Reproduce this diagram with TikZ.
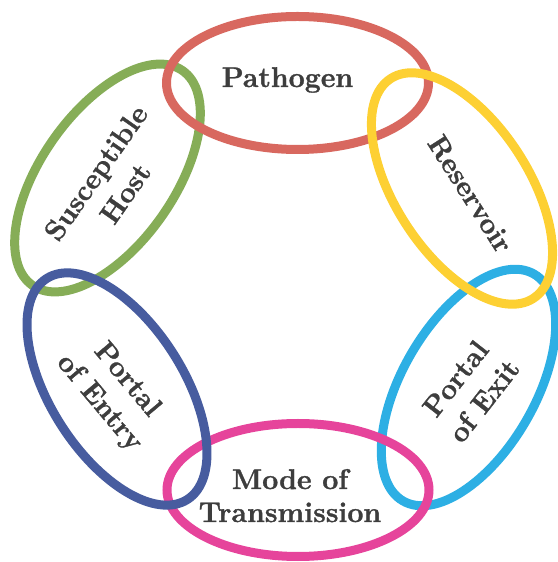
\documentclass[tikz,border=0pt]{standalone}
\usepackage{fontspec}
\newfontfamily\lblfont{Latin Modern Roman}[BoldFeatures={FakeBold=1.2}]
\definecolor{cred}{HTML}{D8685F}
\definecolor{cyellow}{HTML}{FDD033}
\definecolor{ccyan}{HTML}{2DAFE4}
\definecolor{cmagenta}{HTML}{E6449B}
\definecolor{cnavy}{HTML}{475C9F}
\definecolor{cgreen}{HTML}{86AD57}
\definecolor{txtgray}{HTML}{3D3D3D}
\begin{document}
\begin{tikzpicture}[x=1pt,y=1pt,
  ring/.style={line width=9pt},
  lbl/.style={text=txtgray, font=\lblfont\fontsize{28.5}{36}\selectfont\bfseries, align=center, inner sep=0pt}]
\useasboundingbox (0,0) rectangle (557,562);
% drawing order: green, red, cyan, yellow, magenta, navy
\draw[ring, cgreen, rotate around={55:(107.5,384)}] (107.5,384) ellipse [x radius=131pt, y radius=66.5pt];
\draw[ring, cred] (297.5,479) ellipse [x radius=131pt, y radius=66.5pt];
\draw[ring, ccyan, rotate around={60:(468.5,174.5)}] (468.5,174.5) ellipse [x radius=131pt, y radius=66.5pt];
\draw[ring, cyellow, rotate around={-57:(462,373.5)}] (462,373.5) ellipse [x radius=131pt, y radius=66.5pt];
\draw[ring, cmagenta] (298,72) ellipse [x radius=131pt, y radius=66.5pt];
\draw[ring, cnavy, rotate around={-57.5:(117,173)}] (117,173) ellipse [x radius=131pt, y radius=66.5pt];
% labels
\node[lbl, anchor=base] (pathogen) at (287.5,475) {Pathogen};
\node[lbl, rotate=-57.5] (reservoir) at (470.5,368) {Reservoir};
\node[lbl, rotate=52] (exit) at (469.6,172.4) {Portal\\of Exit};
\node[lbl, anchor=base] (mode) at (290,73) {Mode of};
\node[lbl, anchor=base] (trans) at (290,40) {Transmission};
\node[lbl, rotate=-50] (entry) at (112.9,170.3) {Portal\\of Entry};
\node[lbl, rotate=55] (host) at (110.4,379) {Susceptible\\Host};
\end{tikzpicture}
\end{document}
